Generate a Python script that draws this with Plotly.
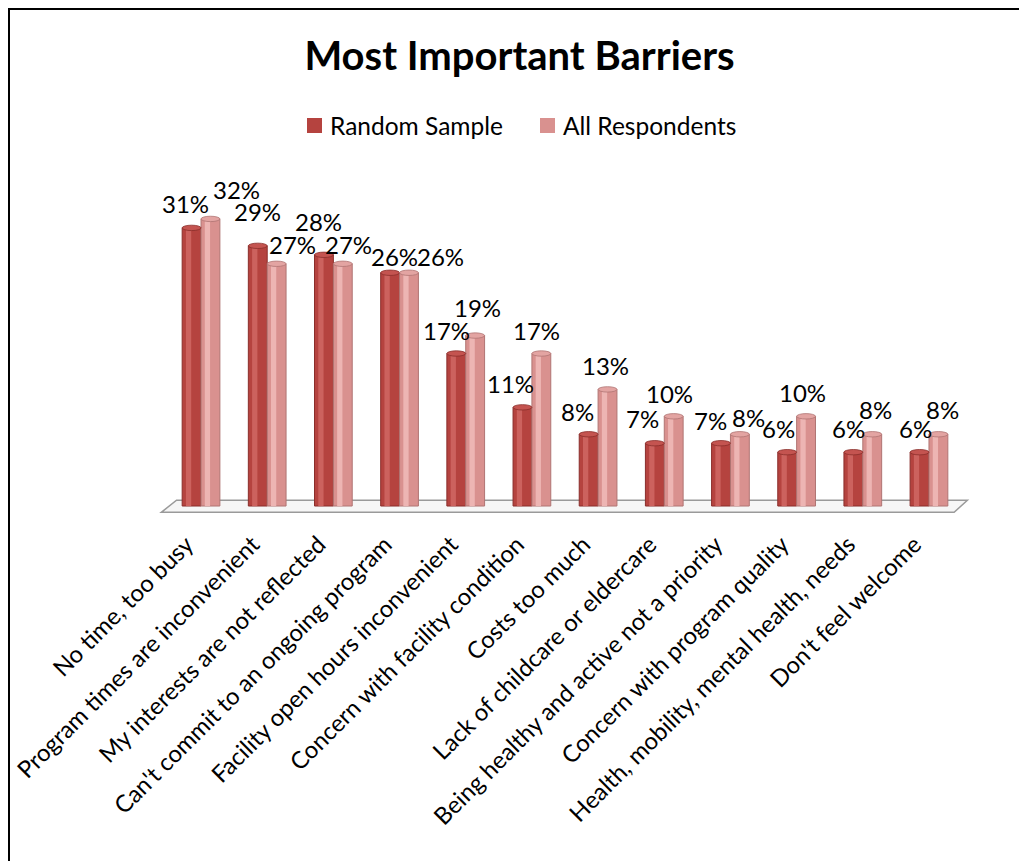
import plotly.graph_objects as go

categories = [
    "No time, too busy",
    "Program times are inconvenient",
    "My interests are not reflected",
    "Can't commit to an ongoing program",
    "Facility open hours inconvenient",
    "Concern with facility condition",
    "Costs too much",
    "Lack of childcare or eldercare",
    "Being healthy and active not a priority",
    "Concern with program quality",
    "Health, mobility, mental health, needs",
    "Don't feel welcome",
]
random_sample = [31, 29, 28, 26, 17, 11, 8, 7, 7, 6, 6, 6]
all_respondents = [32, 27, 27, 26, 19, 17, 13, 10, 8, 10, 8, 8]
series_names = ["Random Sample", "All Respondents"]

# label nudges (pixels) to mimic the original label placement
rs_dx = [-6, 0, -5, 4, -10, -12, -11, -12, -11, -9, -5, -4]
rs_dy = [24, 34, 33, 16, 23, 24, 23, 25, 23, 24, 24, 24]
ar_dx = [26, 16, 6, 32, 2, -5, -2, -4, 9, -4, 3, 4]
ar_dy = [29, 19, 19, 16, 28, 23, 24, 23, 17, 24, 25, 25]

W = 0.285  # bar width in category units
styles = [
    dict(offset=-W, edge="#8A2E2B", base="#B5433F", hi="#CC625E", cap="#C45450"),
    dict(offset=0.0, edge="#B07573", base="#D9918F", hi="#EDB5B3", cap="#E3A4A2"),
]
FONT = "Lato"

# page is drawn with an 8px body margin; pixel targets below are window pixels
OFF = 8
PL, PR, PT, PB = 158, 972, 192, 515  # plot area in window pixels
PW, PH = PR - PL, PB - PT


def px_x(px):
    return (px - PL) / PW


def px_y(py):
    return (PB - py) / PH


fig = go.Figure()
x_idx = list(range(len(categories)))
for vals, name, st in zip([random_sample, all_respondents], series_names, styles):
    fig.add_trace(go.Bar(
        x=x_idx, y=vals, name=name, offset=st["offset"], width=W,
        marker=dict(color=st["base"], line=dict(color=st["edge"], width=1)),
        showlegend=False, hoverinfo="y+name",
    ))
    fig.add_trace(go.Bar(
        x=x_idx, y=vals, name=name, offset=st["offset"] + 0.2 * W, width=0.28 * W,
        marker=dict(color=st["hi"], line=dict(width=0)),
        showlegend=False, hoverinfo="skip",
    ))

shapes = []
annotations = []
# floor
shapes.append(dict(
    type="path", xref="x", yref="y",
    path="M -0.6,-0.7 L 11.38,-0.7 L 11.58,0.65 L -0.37,0.65 Z",
    fillcolor="#F6F6F6", line=dict(color="#9A9A9A", width=1.5), layer="below",
))
# cylinder caps and data labels
for vals, st, dxs, dys in [(random_sample, styles[0], rs_dx, rs_dy),
                           (all_respondents, styles[1], ar_dx, ar_dy)]:
    for i, v in enumerate(vals):
        xc = i + st["offset"] + W / 2
        shapes.append(dict(
            type="circle", xref="x", yref="y",
            x0=xc - W / 2, x1=xc + W / 2, y0=v - 0.3, y1=v + 0.3,
            fillcolor=st["cap"], line=dict(color=st["edge"], width=0.8),
        ))
        annotations.append(dict(
            x=xc, y=v, xref="x", yref="y", text=f"{v}%", showarrow=False,
            xshift=dxs[i], yshift=dys[i], xanchor="center", yanchor="middle",
            font=dict(family=FONT, size=24, color="black"), borderpad=0,
        ))

# outer frame
shapes.append(dict(type="rect", xref="paper", yref="paper",
                   x0=px_x(9), x1=px_x(1022), y0=px_y(900), y1=px_y(9),
                   line=dict(color="black", width=2)))

# manual legend
legend_items = [(series_names[0], styles[0]["base"], 307), (series_names[1], styles[1]["base"], 540)]
for name, col, px in legend_items:
    shapes.append(dict(type="rect", xref="paper", yref="paper",
                       x0=px_x(px), x1=px_x(px + 15),
                       y0=px_y(133), y1=px_y(118),
                       fillcolor=col, line=dict(width=0)))
    annotations.append(dict(
        x=px_x(px + 21), y=px_y(125), xref="paper", yref="paper",
        text=name, showarrow=False, xanchor="left", yanchor="middle",
        font=dict(family=FONT, size=24.5, color="black"),
    ))

fig.update_layout(
    width=1027, height=861,
    margin=dict(l=PL - OFF, r=1027 - (PR - OFF), t=PT - OFF, b=861 - (PB - OFF),
                autoexpand=False),
    paper_bgcolor="white", plot_bgcolor="white",
    barmode="overlay",
    title=dict(text="<b>Most Important Barriers</b>", x=(519.5 - OFF) / 1027, xanchor="center",
               y=1 - (56 - OFF) / 861, yanchor="middle",
               font=dict(family=FONT, size=40, color="black")),
    xaxis=dict(
        tickmode="array", tickvals=[i - 0.22 for i in x_idx], ticktext=categories,
        range=[-0.65, 11.65], tickangle=-45, showgrid=False, zeroline=False,
        showline=False, ticks="", ticklabelstandoff=10, ticklabeloverflow="allow",
        automargin=False,
        tickfont=dict(family=FONT, size=23.8, color="black"),
    ),
    yaxis=dict(range=[-1, 35], visible=False, showgrid=False, zeroline=False,
               automargin=False),
    shapes=shapes, annotations=annotations,
    font=dict(family=FONT),
)

fig.write_html("out.html")
